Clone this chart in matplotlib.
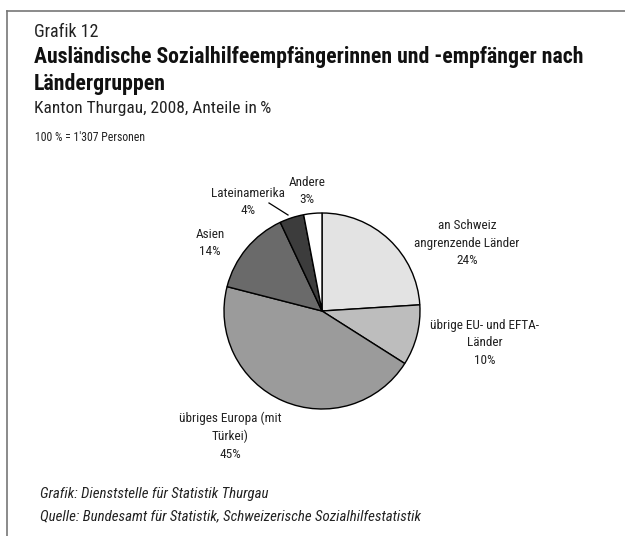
import matplotlib
matplotlib.use("Agg")
import matplotlib.pyplot as plt
from matplotlib.lines import Line2D

plt.rcParams['font.family'] = ['Roboto Condensed', 'DejaVu Sans']

# data
categories = ["an Schweiz\nangrenzende Länder", "übrige EU- und EFTA-\nLänder",
              "übriges Europa (mit\nTürkei)", "Asien", "Lateinamerika", "Andere"]
shares = [24, 10, 45, 14, 4, 3]
colors = ["#e3e3e3", "#bdbdbd", "#9b9b9b", "#6a6a6a", "#3c3c3c", "#ffffff"]

W, H = 625, 536
fig = plt.figure(figsize=(W / 100, H / 100), dpi=100)


def fx(x):
    return x / W


def fy(y):
    return 1 - y / H


# frame (top + left only)
fig.add_artist(Line2D([fx(7), 1], [fy(11), fy(11)], color="#777777", lw=1.2))
fig.add_artist(Line2D([fx(7), fx(7)], [fy(11), 0], color="#777777", lw=1.2))

# header
fig.text(fx(34), fy(37), "Grafik 12", fontsize=13, va="baseline", color="#222222")
fig.text(fx(34), fy(63), "Ausländische Sozialhilfeempfängerinnen und -empfänger nach",
         fontsize=15.7, fontweight="bold", va="baseline", color="#111111")
fig.text(fx(34), fy(90), "Ländergruppen", fontsize=15.7, fontweight="bold",
         va="baseline", color="#111111")
fig.text(fx(34), fy(113), "Kanton Thurgau, 2008, Anteile in\u2009%", fontsize=12.5,
         va="baseline", color="#222222")
fig.text(fx(35), fy(141), "100 % = 1'307 Personen", fontsize=8.5, va="baseline",
         color="#222222")

# pie
cx, cy, r = 322, 311, 98
ax = fig.add_axes([fx(cx - r), fy(cy + r), 2 * r / W, 2 * r / H])
ax.pie(shares, colors=colors, startangle=90, counterclock=False,
       wedgeprops=dict(edgecolor="black", linewidth=1))
ax.set_xlim(-1, 1)
ax.set_ylim(-1, 1)
ax.set_aspect("equal")
ax.axis("off")

# labels (block centres in pixels)
label_pos = [(467, 243), (485, 343), (230, 436), (210, 243), (248, 202), (307, 191)]
for name, val, (lx, ly) in zip(categories, shares, label_pos):
    fig.text(fx(lx), fy(ly), f"{name}\n{val}%", fontsize=9.5, ha="center",
             va="center", linespacing=1.45, color="#222222")

# leader line for Lateinamerika
fig.add_artist(Line2D([fx(269), fx(288)], [fy(203), fy(215)], color="black", lw=0.9))

# footer
fig.text(fx(40), fy(498), "Grafik: Dienststelle für Statistik Thurgau", fontsize=10.7,
         style="italic", va="baseline", color="#222222")
fig.text(fx(40), fy(520), "Quelle: Bundesamt für Statistik, Schweizerische Sozialhilfestatistik",
         fontsize=10.7, style="italic", va="baseline", color="#222222")

fig.savefig("out.png", dpi=100)
